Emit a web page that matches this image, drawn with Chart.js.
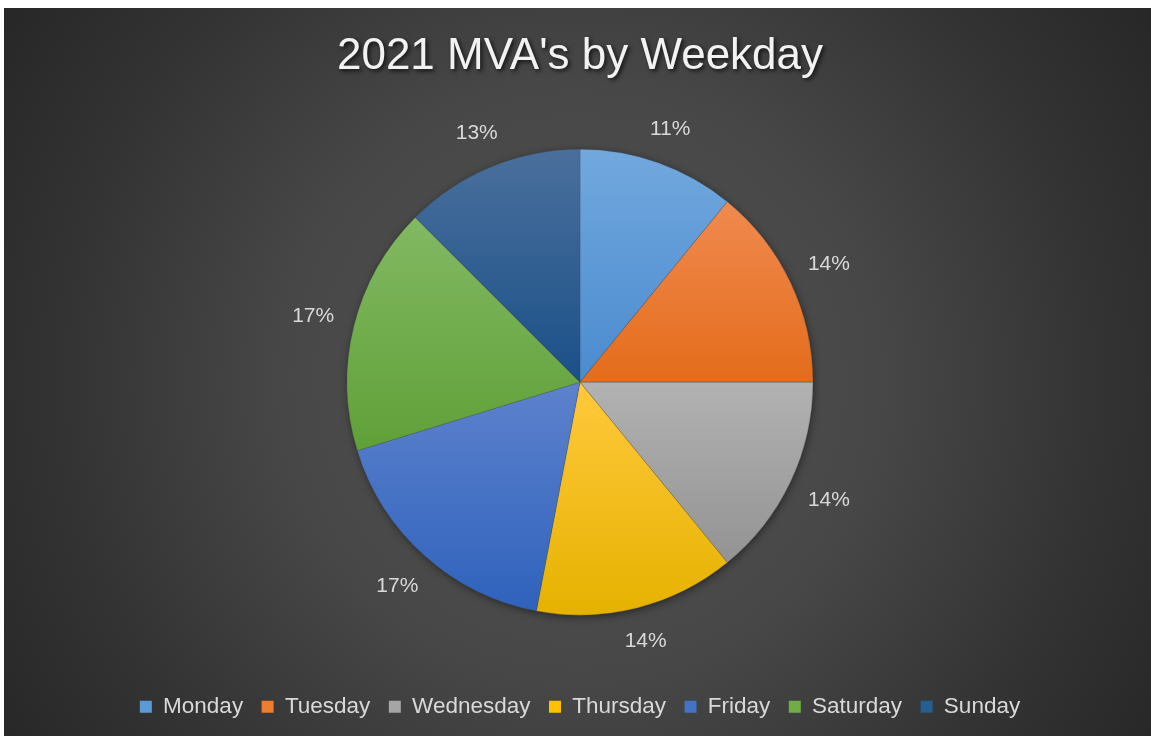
<!DOCTYPE html>
<html>
<head>
<meta charset="utf-8">
<script src="https://cdn.jsdelivr.net/npm/chart.js@4"></script>
<style>
    html, body { margin: 0; padding: 0; background: #ffffff; }
    #wrap {
        position: absolute;
        left: 4px;
        top: 8px;
        width: 1147px;
        height: 728px;
        background: radial-gradient(circle at 576px 373px, #545454 0px, #474747 300px, #333333 520px, #262626 700px);
    }
</style>
</head>
<body>
<div id="wrap"><canvas id="pieChart"></canvas></div>
<script>
const weekdays = ['Monday', 'Tuesday', 'Wednesday', 'Thursday', 'Friday', 'Saturday', 'Sunday'];
const shares = [10.9, 14.1, 14.1, 13.9, 17.25, 17.25, 12.5];
const baseColors = ['#5b9bd5', '#ed7d31', '#a5a5a5', '#ffc000', '#4472c4', '#70ad47', '#255e91'];
const lightColors = ['#72a8de', '#f08a4f', '#b2b2b2', '#ffc93c', '#5d82cd', '#82b962', '#4a6f9c'];
const darkColors = ['#4a8bcf', '#e46c1b', '#939393', '#e6b200', '#2f62bc', '#60a038', '#1a5088'];

const PIE_RADIUS = 233;
const total = shares.reduce((a, b) => a + b, 0);

// vertical gradient over the bounding box of each slice, like the Excel style
function sliceGradient(context) {
    const chart = context.chart;
    const area = chart.chartArea;
    const i = context.dataIndex;
    if (!area || i === undefined) {
        return baseColors[i] || '#888';
    }
    const cx = (area.left + area.right) / 2;
    const cy = (area.top + area.bottom) / 2;
    let before = 0;
    for (let k = 0; k < i; k++) before += shares[k];
    const a0 = -Math.PI / 2 + 2 * Math.PI * before / total;
    const a1 = a0 + 2 * Math.PI * shares[i] / total;
    let minY = cy, maxY = cy;
    for (let s = 0; s <= 40; s++) {
        const a = a0 + (a1 - a0) * s / 40;
        const y = cy + Math.sin(a) * PIE_RADIUS;
        minY = Math.min(minY, y);
        maxY = Math.max(maxY, y);
    }
    const g = chart.ctx.createLinearGradient(0, minY, 0, maxY);
    g.addColorStop(0, lightColors[i]);
    g.addColorStop(1, darkColors[i]);
    return g;
}

// soft shadow only around the outside of the pie
const pieShadow = {
    id: 'pieShadow',
    beforeDatasetsDraw(chart) {
        const arc = chart.getDatasetMeta(0).data[0];
        if (!arc) return;
        const ctx = chart.ctx;
        ctx.save();
        ctx.shadowColor = 'rgba(0, 0, 0, 0.5)';
        ctx.shadowBlur = 9;
        ctx.shadowOffsetX = 1;
        ctx.shadowOffsetY = 2;
        ctx.fillStyle = '#3a3a3a';
        ctx.beginPath();
        ctx.arc(arc.x, arc.y, arc.outerRadius - 0.5, 0, Math.PI * 2);
        ctx.fill();
        ctx.restore();
    }
};

const titleShadow = {
    id: 'titleShadow',
    beforeDraw(chart) {
        const tb = chart.titleBlock;
        if (!tb) return;
        const opts = tb.options;
        const ctx = chart.ctx;
        ctx.save();
        ctx.font = `${opts.font.size}px ${opts.font.family}`;
        ctx.textAlign = 'center';
        ctx.textBaseline = 'middle';
        ctx.filter = 'blur(2px)';
        ctx.fillStyle = 'rgba(0, 0, 0, 0.75)';
        const y = tb.top + opts.padding.top + opts.font.size * 0.6;
        ctx.fillText(opts.text, (tb.left + tb.right) / 2 + 2, y + 2);
        ctx.restore();
    }
};

const sliceLabels = {
    id: 'sliceLabels',
    afterDatasetsDraw(chart) {
        const ctx = chart.ctx;
        const meta = chart.getDatasetMeta(0);
        ctx.save();
        ctx.font = '21px "Liberation Sans", Arial, sans-serif';
        ctx.fillStyle = '#d9d9d9';
        ctx.textAlign = 'center';
        ctx.textBaseline = 'middle';
        meta.data.forEach((arc, i) => {
            const mid = (arc.startAngle + arc.endAngle) / 2;
            const pct = Math.round(shares[i] / total * 100) + '%';
            const w = ctx.measureText(pct).width;
            const h = 21;
            const c = Math.cos(mid), s = Math.sin(mid);
            const r = arc.outerRadius + 19 + Math.abs(c) * w / 2 + Math.abs(s) * h / 2;
            ctx.fillText(pct, arc.x + c * r, arc.y + s * r);
        });
        ctx.restore();
    }
};

const ctx = document.getElementById('pieChart').getContext('2d');
const pieChart = new Chart(ctx, {
    type: 'pie',
    data: {
        labels: weekdays,
        datasets: [{
            data: shares,
            backgroundColor: sliceGradient,
            borderColor: 'rgba(70, 70, 70, 0.35)',
            borderWidth: 0.75,
            radius: PIE_RADIUS
        }]
    },
    options: {
        responsive: true,
        maintainAspectRatio: false,
        animation: false,
        layout: {
            padding: { left: 5, right: 0, top: 0, bottom: 8 }
        },
        plugins: {
            title: {
                display: true,
                text: "2021 MVA's by Weekday",
                color: '#f2f2f2',
                font: { family: '"Liberation Sans", Arial, sans-serif', size: 44, weight: 'normal' },
                padding: { top: 22, bottom: 4.5 }
            },
            legend: {
                position: 'bottom',
                labels: {
                    color: '#d9d9d9',
                    font: { family: '"Liberation Sans", Arial, sans-serif', size: 22.5 },
                    boxWidth: 12,
                    boxHeight: 12,
                    padding: 18.5,
                    generateLabels: function(chart) {
                        return weekdays.map((day, i) => ({
                            text: day,
                            fillStyle: baseColors[i],
                            strokeStyle: baseColors[i],
                            lineWidth: 0,
                            fontColor: '#d9d9d9',
                            hidden: false,
                            index: i
                        }));
                    }
                }
            },
            tooltip: { enabled: false }
        }
    },
    plugins: [pieShadow, titleShadow, sliceLabels]
});
</script>
</body>
</html>
